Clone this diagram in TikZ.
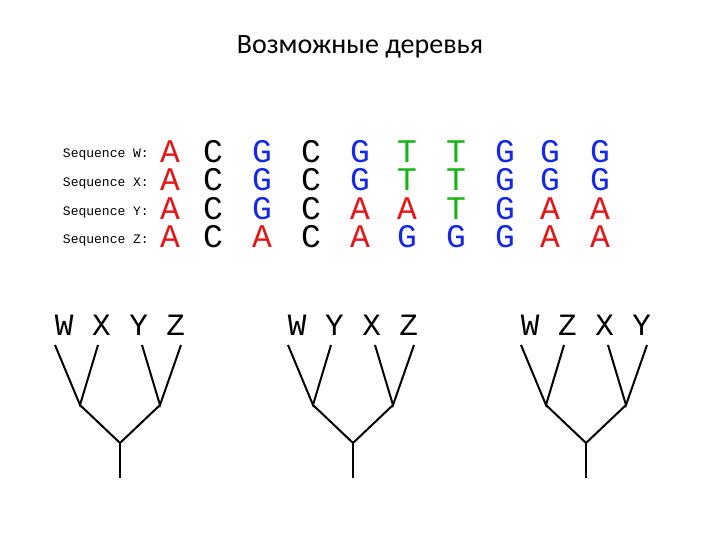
\documentclass[tikz,border=0pt]{standalone}
\usepackage{fontspec}
\setmainfont{Carlito}
\newfontfamily\monof{Liberation Mono}
\definecolor{cA}{RGB}{230,20,20}
\definecolor{cG}{RGB}{20,40,230}
\definecolor{cT}{RGB}{20,180,20}
\definecolor{cC}{RGB}{0,0,0}
\begin{document}
\begin{tikzpicture}[x=1pt,y=-1pt,
  base/.style={font=\monof\fontsize{33}{33}\selectfont,inner sep=0pt,anchor=center},
  lab/.style={font=\monof\fontsize{13}{13}\selectfont,inner sep=0pt,anchor=east},
  tl/.style={font=\monof\fontsize{31}{31}\selectfont,inner sep=0pt,anchor=center},
  br/.style={line width=2pt}]
\useasboundingbox (0,0) rectangle (720,540);
\node[font=\fontsize{28}{28}\selectfont] (title) at (360,47) {Возможные деревья};
\node[lab] (lW) at (149,155) {Sequence W:};
\node[lab] (lX) at (149,184) {Sequence X:};
\node[lab] (lY) at (149,213) {Sequence Y:};
\node[lab] (lZ) at (149,241) {Sequence Z:};
\foreach \xx/\a/\b/\c/\d [count=\i] in {
 170/A/A/A/A, 213/C/C/C/C, 262/G/G/G/A, 311/C/C/C/C, 360/G/G/A/A,
 407/T/T/A/G, 456/T/T/T/G, 505/G/G/G/G, 550/G/G/A/A, 600/G/G/A/A}{
 \foreach \ch/\y [count=\j] in {\a/152,\b/180,\c/209,\d/237}{
   \node[base,text=c\ch] (s\i-\j) at (\xx,\y) {\ch};
 }
}
\foreach \dx/\labs [count=\k] in {0/{W X Y Z},233/{W Y X Z},466/{W Z X Y}}{
 \begin{scope}[shift={(\dx,0)}]
 \node[tl] (t\k) at (120,325) {\labs};
 \coordinate (a\k) at (55,345); \coordinate (b\k) at (98,345);
 \coordinate (c\k) at (142,345); \coordinate (d\k) at (181,345);
 \coordinate (p\k) at (80,405); \coordinate (q\k) at (160,405);
 \coordinate (r\k) at (120,443); \coordinate (e\k) at (120,478);
 \draw[br] (a\k) -- (p\k) -- (b\k);
 \draw[br] (c\k) -- (q\k) -- (d\k);
 \draw[br] (p\k) -- (r\k) -- (q\k);
 \draw[br] (r\k) -- (e\k);
 \end{scope}}
\end{tikzpicture}
\end{document}
